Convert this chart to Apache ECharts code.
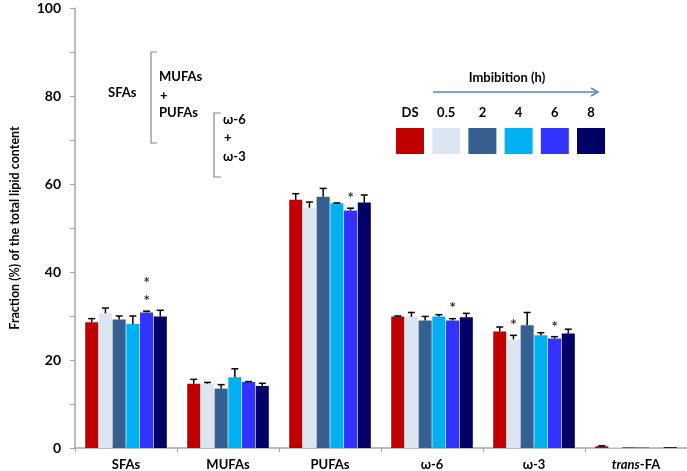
<!DOCTYPE html>
<html>
<head>
<meta charset="utf-8">
<script src="https://cdn.jsdelivr.net/npm/echarts@6/dist/echarts.min.js"></script>
<style>html,body{margin:0;padding:0;background:#fff}#c{width:687px;height:471px}</style>
</head>
<body>
<div id="c"></div>
<script>
const categories = ['SFAs', 'MUFAs', 'PUFAs', 'ω-6', 'ω-3', 'trans-FA'];
const seriesNames = ['DS', '0.5', '2', '4', '6', '8'];
const yTicks = [0, 20, 40, 60, 80, 100];

const valDS  = [28.6, 14.6, 56.4, 29.9, 26.5, 0.4];
const val05  = [30.6, 14.6, 54.6, 29.8, 24.7, 0.2];
const val2   = [29.2, 13.5, 57.1, 29.0, 27.9, 0.2];
const val4   = [28.2, 16.1, 55.6, 29.9, 25.6, 0.2];
const val6   = [30.8, 15.0, 54.0, 29.0, 24.9, 0.0];
const val8   = [29.9, 14.1, 55.8, 29.7, 26.0, 0.2];

const errDS  = [0.8, 1.0, 1.4, 0.1, 1.0, 0.1];
const err05  = [1.2, 0.3, 1.3, 1.0, 0.9, 0.0];
const err2   = [0.8, 0.9, 1.9, 0.9, 2.9, 0.0];
const err4   = [1.8, 1.9, 0.1, 0.4, 0.6, 0.0];
const err6   = [0.3, 0.1, 0.5, 0.4, 0.4, 0.0];
const err8   = [1.4, 0.6, 1.7, 0.9, 1.0, 0.0];

const starsDS = [0, 0, 0, 0, 0, 0];
const stars05 = [0, 0, 0, 0, 1, 0];
const stars2  = [0, 0, 0, 0, 0, 0];
const stars4  = [0, 0, 0, 0, 0, 0];
const stars6  = [2, 0, 1, 1, 1, 0];
const stars8  = [0, 0, 0, 0, 0, 0];

const colors = ['#C00000', '#DCE6F2', '#376092', '#00B0F0', '#3333FF', '#000066'];

const values = [valDS, val05, val2, val4, val6, val8];
const errors = [errDS, err05, err2, err4, err6, err8];
const stars = [starsDS, stars05, stars2, stars4, stars6, stars8];

const FONT = 'Lato';
const CAT_GAP = 0.2, BAR_GAP = 0.05, N = seriesNames.length;

const errData = [];
values.forEach((arr, s) => arr.forEach((v, c) => {
  errData.push([c, v + errors[s][c], v, s, stars[s][c]]);
}));

const barSeries = seriesNames.map((name, s) => ({
  type: 'bar', name, data: values[s],
  barGap: (BAR_GAP * 100) + '%', barCategoryGap: (CAT_GAP * 100) + '%',
  itemStyle: { color: colors[s] }, silent: true
}));

const errSeries = {
  type: 'custom', data: errData, encode: { x: 0, y: 1 }, z: 10, silent: true,
  renderItem(params, api) {
    const c = api.value(0), top = api.value(1), base = api.value(2), s = api.value(3), n = api.value(4);
    const p = api.coord([c, top]);
    const pb = api.coord([c, base]);
    const band = api.size([1, 0])[0];
    const remained = band * (1 - CAT_GAP);
    const bw = remained / (N + (N - 1) * BAR_GAP);
    const cx = p[0] - remained / 2 + s * bw * (1 + BAR_GAP) + bw / 2;
    const st = { stroke: '#000', lineWidth: 1.5 };
    const ch = [];
    if (top - base > 0) {
      ch.push({ type: 'line', shape: { x1: cx, y1: pb[1], x2: cx, y2: p[1] }, style: st });
      ch.push({ type: 'line', shape: { x1: cx - 3.5, y1: p[1], x2: cx + 3.5, y2: p[1] }, style: st });
    }
    for (let k = 0; k < n; k++) {
      ch.push({ type: 'text', x: cx, y: p[1] - 10 - k * 18,
        style: { text: '*', fill: '#333', font: 'bold 15px ' + FONT, align: 'center', verticalAlign: 'middle' } });
    }
    return { type: 'group', children: ch };
  }
};

// legend / annotation graphics
const graphics = [];
const bstyle = { stroke: '#888', lineWidth: 1.2, fill: null };
graphics.push({ type: 'polyline', shape: { points: [[157, 52], [151, 52], [151, 143], [157, 143]] }, style: bstyle });
graphics.push({ type: 'polyline', shape: { points: [[221, 113], [214, 113], [214, 177], [221, 177]] }, style: bstyle });
const annTxt = (t, x, y) => ({ type: 'text', x, y, style: { text: t, font: 'bold 13px ' + FONT, fill: '#000', align: 'left', verticalAlign: 'middle' } });
graphics.push(annTxt('SFAs', 108, 93));
graphics.push(annTxt('MUFAs', 159, 77));
graphics.push(annTxt('+', 160, 96));
graphics.push(annTxt('PUFAs', 159, 113));
graphics.push(annTxt('ω-6', 223, 120));
graphics.push(annTxt('+', 224, 138));
graphics.push(annTxt('ω-3', 223, 157));
graphics.push({ type: 'text', x: 507, y: 78, style: { text: 'Imbibition (h)', font: 'bold 13px ' + FONT, fill: '#000', align: 'center', verticalAlign: 'middle' } });
graphics.push({ type: 'line', shape: { x1: 433, y1: 92, x2: 598, y2: 92 }, style: { stroke: '#5B87BD', lineWidth: 1.5 } });
graphics.push({ type: 'polyline', shape: { points: [[591, 88], [598, 92], [591, 96]] }, style: { stroke: '#5B87BD', lineWidth: 1.5, fill: null } });
seriesNames.forEach((name, i) => {
  const x = 396 + i * 36.2;
  graphics.push({ type: 'rect', shape: { x, y: 128, width: 28, height: 26 }, style: { fill: colors[i] } });
  graphics.push({ type: 'text', x: x + 14, y: 113, style: { text: name, font: 'bold 13px ' + FONT, fill: '#000', align: 'center', verticalAlign: 'middle' } });
});

const chart = echarts.init(document.getElementById('c'), null, { renderer: 'canvas' });
chart.setOption({
  animation: false,
  backgroundColor: '#fff',
  grid: { left: 71, right: -2, top: 8, bottom: 22 },
  xAxis: {
    type: 'category', data: categories,
    axisLine: { lineStyle: { color: '#A6A6A6', width: 1.5 } },
    axisTick: { show: true, length: 4, lineStyle: { color: '#A6A6A6' } },
    axisLabel: {
      margin: 10, color: '#000', fontWeight: 'bold', fontSize: 13, fontFamily: FONT,
      formatter: v => v === 'trans-FA' ? '{i|trans}-FA' : v,
      rich: { i: { fontStyle: 'italic', fontWeight: 'bold', fontSize: 13, fontFamily: FONT, color: '#000' } }
    }
  },
  yAxis: {
    type: 'value', min: 0, max: 100, interval: 10,
    name: 'Fraction (%) of the total lipid content', nameLocation: 'middle', nameGap: 54, nameRotate: 90,
    nameTextStyle: { color: '#000', fontWeight: 'bold', fontSize: 12.5, fontFamily: FONT },
    axisLine: { show: true, lineStyle: { color: '#A6A6A6', width: 1.5 } },
    axisTick: { show: true, length: 5, lineStyle: { color: '#A6A6A6' } },
    splitLine: { show: false },
    axisLabel: {
      margin: 14, color: '#000', fontWeight: 'bold', fontSize: 14, fontFamily: FONT,
      formatter: v => yTicks.includes(v) ? String(v) : ''
    }
  },
  series: [...barSeries, errSeries],
  graphic: graphics
});
</script>
</body>
</html>
